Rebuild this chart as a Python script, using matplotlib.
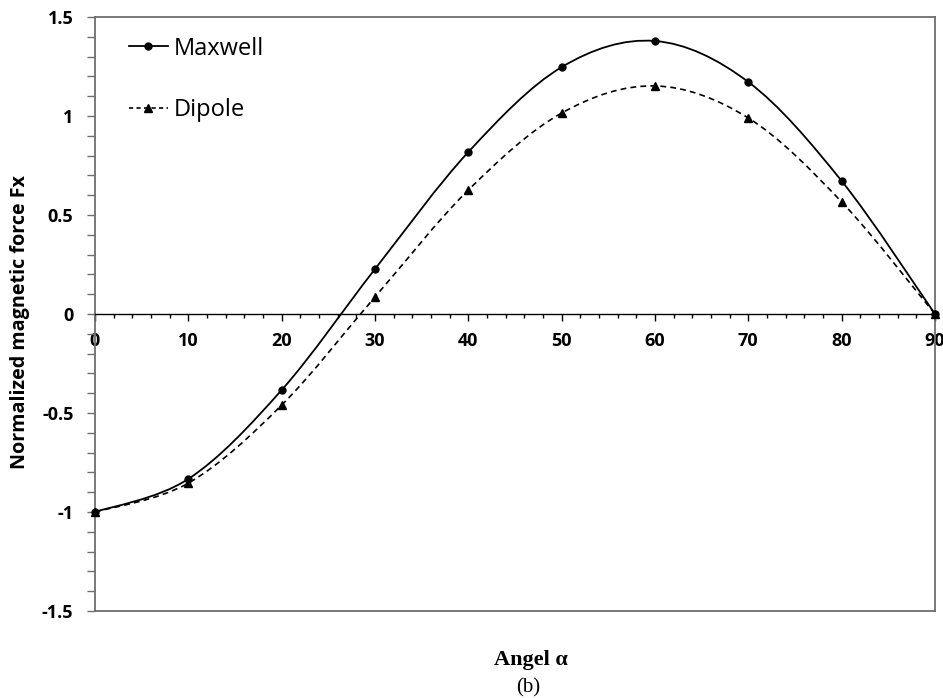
import matplotlib
matplotlib.use("Agg")
import matplotlib.pyplot as plt
import numpy as np
from matplotlib.path import Path
from matplotlib.patches import PathPatch
from matplotlib.lines import Line2D
from matplotlib.ticker import MultipleLocator

# Data
angle = [0, 10, 20, 30, 40, 50, 60, 70, 80, 90]
maxwell = [-1.0, -0.833, -0.384, 0.227, 0.818, 1.247, 1.379, 1.172, 0.672, 0.0]
dipole = [-1.0, -0.854, -0.46, 0.086, 0.626, 1.015, 1.152, 0.99, 0.566, 0.0]

SANS = "Open Sans"
SERIF = "Liberation Serif"


def smooth_path(x, y):
    # Excel-style smoothed line: cubic Bezier through the points
    p = np.column_stack([x, y]).astype(float)
    ext = np.vstack([p[0], p, p[-1]])
    verts = [p[0]]
    codes = [Path.MOVETO]
    for i in range(len(p) - 1):
        p0, p1, p2, p3 = ext[i], ext[i + 1], ext[i + 2], ext[i + 3]
        c1 = p1 + (p2 - p0) / 6.0
        c2 = p2 - (p3 - p1) / 6.0
        verts += [c1, c2, p2]
        codes += [Path.CURVE4] * 3
    return Path(verts, codes)


fig = plt.figure(figsize=(9.43, 6.98), dpi=100)
ax = fig.add_axes([0.1007, 0.1246, 0.8908, 0.851])

frame_col = "#6e6e6e"

ax.add_patch(PathPatch(smooth_path(angle, maxwell), fill=False, lw=1.3, color="black"))
ax.add_patch(PathPatch(smooth_path(angle, dipole), fill=False, lw=1.2, color="black",
                       linestyle=(0, (3.5, 2.5))))
ax.plot(angle, maxwell, "o", color="black", ms=5, clip_on=False, zorder=3)
ax.plot(angle, dipole, "^", color="black", ms=5.5, clip_on=False, zorder=3)

ax.set_xlim(0, 90)
ax.set_ylim(-1.5, 1.5)

# x axis crosses at y = 0
ax.spines["bottom"].set_position(("data", 0))
ax.spines["bottom"].set_color("black")
ax.spines["bottom"].set_linewidth(1.0)
for s in ["left", "top", "right"]:
    ax.spines[s].set_color(frame_col)
    ax.spines[s].set_linewidth(1.3)
ax.axhline(-1.5, color=frame_col, lw=1.3, clip_on=False)

ax.xaxis.set_major_locator(MultipleLocator(10))
ax.xaxis.set_minor_locator(MultipleLocator(2))
ax.yaxis.set_major_locator(MultipleLocator(0.5))
ax.yaxis.set_minor_locator(MultipleLocator(0.1))

ax.tick_params(axis="x", which="major", direction="out", length=5, width=1, color="black", pad=8)
ax.tick_params(axis="x", which="minor", direction="out", length=3, width=1, color="black")
ax.tick_params(axis="y", which="both", direction="out", length=5.5, width=1, color=frame_col, pad=10)

ax.set_xticks(angle)
ax.set_xticklabels([str(a) for a in angle], fontsize=13, fontweight="bold", family=SANS)
yt = [-1.5, -1, -0.5, 0, 0.5, 1, 1.5]
ax.set_yticks(yt)
ax.set_yticklabels(["-1.5", "-1", "-0.5", "0", "0.5", "1", "1.5"],
                   fontsize=13, fontweight="bold", family=SANS)

handles = [
    Line2D([], [], color="black", lw=1.3, marker="o", ms=5),
    Line2D([], [], color="black", lw=1.2, marker="^", ms=5.5, linestyle=(0, (2.5, 2))),
]
ax.legend(handles, ["Maxwell", "Dipole"], loc="upper left", bbox_to_anchor=(0.04, 0.967),
          frameon=False, prop={"family": SANS, "size": 17}, handlelength=1.65,
          handletextpad=0.28, labelspacing=1.6, borderpad=0, borderaxespad=0)

fig.text(0.021, 0.538, "Normalized magnetic force Fx", rotation=90, ha="center", va="center",
         fontsize=14.2, fontweight="bold", family=SANS)
fig.text(0.563, 0.054, "Angel α", ha="center", va="center", fontsize=16,
         fontweight="bold", family=SERIF)
fig.text(0.56, 0.0143, "(b)", ha="center", va="center", fontsize=15, family=SERIF)

fig.savefig("out.png", dpi=100)
